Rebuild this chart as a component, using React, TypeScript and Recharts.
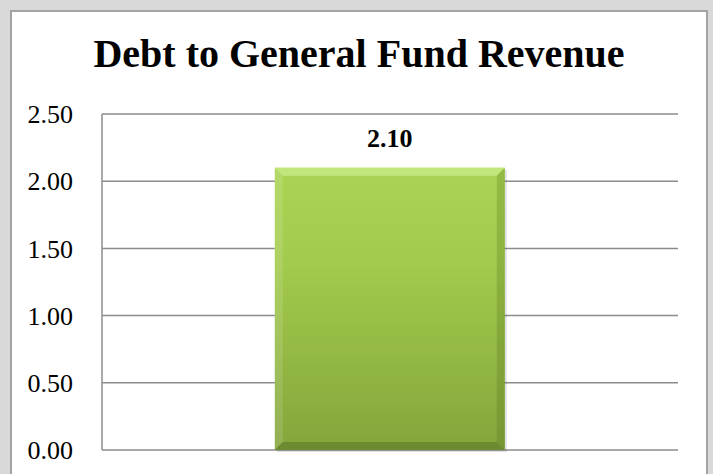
import { BarChart, Bar, XAxis, YAxis, CartesianGrid, LabelList } from "recharts";

// values
const categories = ["FY"];
const ratios = [2.1];
const yTicks = [0, 0.5, 1, 1.5, 2, 2.5];

const data = categories.map((name, i) => ({ name, ratio: ratios[i] }));

const serif = '"Liberation Serif", "Times New Roman", serif';

// green bar with the bevelled edges of the old office chart style
const BevelBar = (props: any) => {
  const { x, y, width, height } = props;
  if (!width || !height) return null;
  const b = 8;
  return (
    <g>
      <rect x={x + 2} y={y + 2} width={width} height={height} fill="#000" opacity={0.12} />
      <rect x={x} y={y} width={width} height={height} fill="url(#barFill)" />
      <polygon
        points={`${x},${y} ${x + width},${y} ${x + width - b},${y + b} ${x + b},${y + b}`}
        fill="#c3e67c"
      />
      <polygon
        points={`${x},${y} ${x + b},${y + b} ${x + b},${y + height - b} ${x},${y + height}`}
        fill="#ffffff"
        opacity={0.12}
      />
      <polygon
        points={`${x + width},${y} ${x + width},${y + height} ${x + width - b},${y + height - b} ${x + width - b},${y + b}`}
        fill="#4e6a1c"
        opacity={0.25}
      />
      <polygon
        points={`${x},${y + height} ${x + width},${y + height} ${x + width - b},${y + height - b} ${x + b},${y + height - b}`}
        fill="#6c8a30"
      />
    </g>
  );
};

export default function App() {
  return (
    <div
      style={{
        position: "fixed",
        left: 0,
        top: 0,
        width: 713,
        height: 474,
        background: "#d9d9d9",
        overflow: "hidden",
      }}
    >
      <div
        style={{
          position: "absolute",
          left: 10,
          top: 10,
          width: 694,
          height: 480,
          background: "#fff",
          border: "2px solid #a3a3a3",
        }}
      />
      <div
        style={{
          position: "absolute",
          left: 0,
          top: 34,
          width: 718,
          textAlign: "center",
          fontFamily: serif,
          fontWeight: "bold",
          fontSize: 40,
          lineHeight: "40px",
          color: "#000",
        }}
      >
        Debt to General Fund Revenue
      </div>
      <div style={{ position: "absolute", left: 0, top: 0 }}>
        <BarChart
          width={713}
          height={474}
          data={data}
          margin={{ top: 114, right: 35, bottom: 24, left: 12 }}
          barCategoryGap="30%"
        >
          <defs>
            <linearGradient id="barFill" x1="0" y1="0" x2="0" y2="1">
              <stop offset="0%" stopColor="#abd454" />
              <stop offset="35%" stopColor="#a2ca4c" />
              <stop offset="100%" stopColor="#84a53b" />
            </linearGradient>
          </defs>
          <CartesianGrid vertical={false} stroke="#8c8c8c" strokeWidth={1.5} />
          <XAxis dataKey="name" hide />
          <YAxis
            width={90}
            domain={[0, 2.5]}
            ticks={yTicks}
            tickFormatter={(v: number) => v.toFixed(2)}
            tickLine={false}
            tickSize={0}
            tickMargin={29}
            axisLine={{ stroke: "#8c8c8c", strokeWidth: 1.5 }}
            tick={{ fill: "#000", fontSize: 26, fontFamily: serif }}
          />
          <Bar dataKey="ratio" shape={<BevelBar />} isAnimationActive={false}>
            <LabelList
              dataKey="ratio"
              position="top"
              offset={21}
              formatter={(v: any) => Number(v).toFixed(2)}
              style={{ fill: "#000", fontSize: 26, fontWeight: "bold", fontFamily: serif }}
            />
          </Bar>
        </BarChart>
      </div>
    </div>
  );
}
